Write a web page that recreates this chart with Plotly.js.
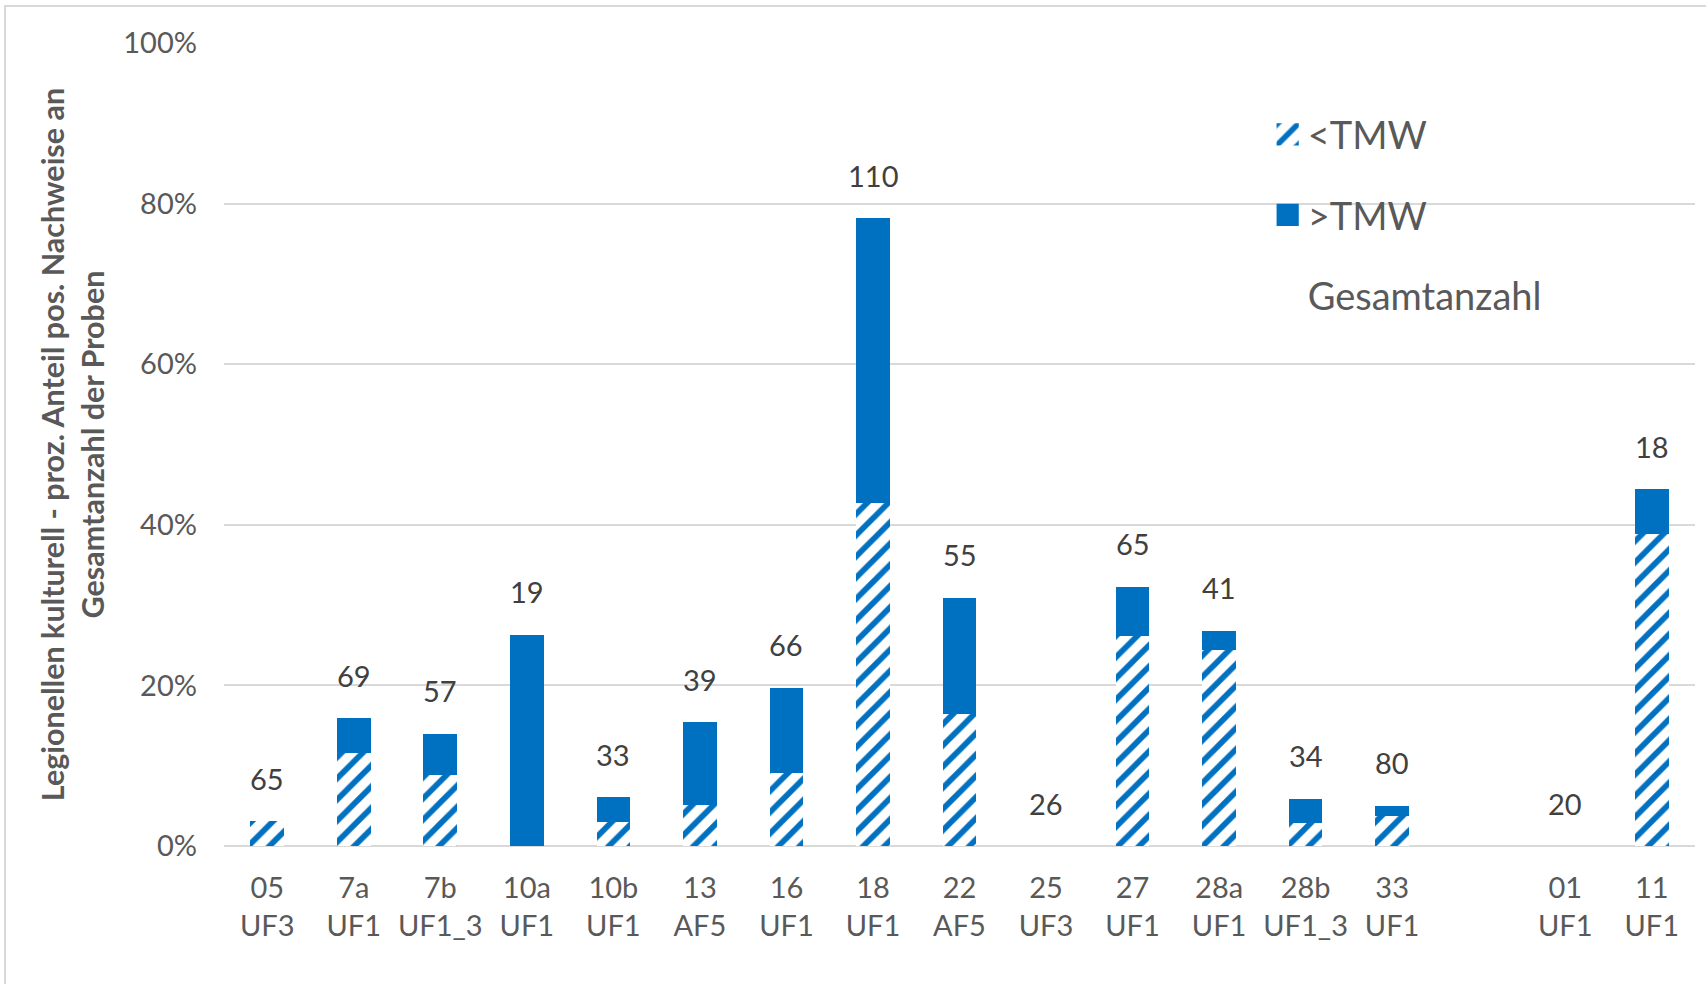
<!DOCTYPE html>
<html>
<head>
<meta charset="utf-8">
<script src="https://cdn.plot.ly/plotly-3.0.1.min.js"></script>
<style>
  html, body { margin: 0; padding: 0; background: #fff; }
  #frame { position: absolute; left: 4px; top: 5px; width: 1702px; height: 979px;
           border-left: 2px solid #D9D9D9; border-top: 2px solid #D9D9D9; box-sizing: border-box; }
  #chart { position: absolute; left: 0; top: 0; width: 1706px; height: 984px; }
</style>
</head>
<body>
<div id="frame"></div>
<div id="chart"></div>
<script>
// Sample point (top line) and type (bottom line); the empty entry is a gap in the axis
const siteLabels = ['05', '7a', '7b', '10a', '10b', '13', '16', '18', '22', '25', '27', '28a', '28b', '33', '', '01', '11'];
const typeLabels = ['UF3', 'UF1', 'UF1_3', 'UF1', 'UF1', 'AF5', 'UF1', 'UF1', 'AF5', 'UF3', 'UF1', 'UF1', 'UF1_3', 'UF1', '', 'UF1', 'UF1'];

// Share of positive findings (fraction of all samples)
const belowTMW = [0.031, 0.116, 0.088, 0.0, 0.030, 0.051, 0.091, 0.427, 0.164, 0.0, 0.262, 0.244, 0.029, 0.0375, null, 0.0, 0.389];
const aboveTMW = [0.0, 0.043, 0.052, 0.263, 0.031, 0.103, 0.106, 0.355, 0.145, 0.0, 0.061, 0.024, 0.030, 0.0125, null, 0.0, 0.055];

// Total number of samples
const totalCount = [65, 69, 57, 19, 33, 39, 66, 110, 55, 26, 65, 41, 34, 80, null, 20, 18];

const categories = siteLabels.map((s, i) => (s === '' ? ' ' : s + '<br>' + typeLabels[i]));

const FONT = 'Lato, "Open Sans", sans-serif';
const BLUE = '#0070C0';

const traceBelow = {
  type: 'bar', name: '<TMW', x: categories, y: belowTMW,
  legendgroup: 'a',
  marker: { color: '#FFFFFF', line: { width: 0 },
            pattern: { shape: '/', fgcolor: BLUE, bgcolor: '#FFFFFF', size: 15, solidity: 0.38 } },
  hoverinfo: 'skip'
};
const traceAbove = {
  type: 'bar', name: '>TMW', x: categories, y: aboveTMW,
  legendgroup: 'b',
  marker: { color: BLUE, line: { width: 0 } },
  hoverinfo: 'skip'
};
const traceTotal = {
  type: 'bar', name: 'Gesamtanzahl', x: categories, y: categories.map(() => null),
  legendgroup: 'c',
  marker: { color: 'rgba(0,0,0,0)', line: { width: 0 } },
  hoverinfo: 'skip'
};

const annotations = [];
categories.forEach((c, i) => {
  if (totalCount[i] === null) return;
  annotations.push({
    x: c, y: (belowTMW[i] || 0) + (aboveTMW[i] || 0),
    xref: 'x', yref: 'y', text: String(totalCount[i]),
    showarrow: false, yshift: 43, yanchor: 'middle',
    font: { family: FONT, size: 29, color: '#404040' }
  });
});

const layout = {
  width: 1706, height: 984,
  margin: { l: 224, r: 11, t: 43, b: 138 },
  paper_bgcolor: 'rgba(0,0,0,0)', plot_bgcolor: 'rgba(0,0,0,0)',
  barmode: 'stack', bargap: 0.61,
  font: { family: FONT, color: '#595959' },
  showlegend: true,
  legend: {
    x: 0.7095, y: 0.925, xanchor: 'left', yanchor: 'top',
    traceorder: 'grouped', tracegroupgap: 28,
    font: { family: FONT, size: 38, color: '#595959' },
    bgcolor: 'rgba(0,0,0,0)'
  },
  xaxis: {
    type: 'category', categoryorder: 'array', categoryarray: categories,
    showgrid: false, zeroline: false, showline: false, ticks: '',
    tickfont: { family: FONT, size: 29, color: '#595959' },
    ticklabelstandoff: 22, fixedrange: true
  },
  yaxis: {
    range: [0, 1], tickvals: [0, 0.2, 0.4, 0.6, 0.8, 1.0], tickformat: '.0%',
    showgrid: true, gridcolor: '#D9D9D9', gridwidth: 2,
    zeroline: true, zerolinecolor: '#D9D9D9', zerolinewidth: 2,
    showline: false, ticks: '',
    tickfont: { family: FONT, size: 29, color: '#595959' },
    ticklabelstandoff: 26,
    title: { text: '<b>Legionellen kulturell - proz. Anteil pos. Nachweise an<br>Gesamtanzahl der Proben</b>',
             font: { family: FONT, size: 30.5, color: '#595959' }, standoff: 9 },
    fixedrange: true
  },
  annotations: annotations
};

Plotly.newPlot('chart', [traceBelow, traceAbove, traceTotal], layout, { displayModeBar: false, staticPlot: true })
  .then(function (gd) {
    // Enlarge the small legend swatches to match the reference size (keep their own placement)
    gd.querySelectorAll('.legend .legendpoints path').forEach(function (p) {
      const t = p.getAttribute('transform') || '';
      p.setAttribute('transform', t + ' scale(1.85)');
    });
  });
</script>
</body>
</html>
